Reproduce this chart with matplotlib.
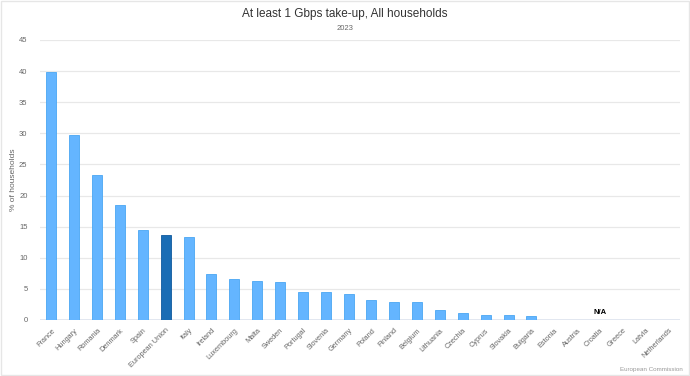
import numpy as np
import matplotlib.pyplot as plt
from matplotlib.patches import Rectangle

countries = ["France", "Hungary", "Romania", "Denmark", "Spain", "European Union",
             "Italy", "Ireland", "Luxembourg", "Malta", "Sweden", "Portugal",
             "Slovenia", "Germany", "Poland", "Finland", "Belgium", "Lithuania",
             "Czechia", "Cyprus", "Slovakia", "Bulgaria", "Estonia", "Austria",
             "Croatia", "Greece", "Latvia", "Netherlands"]
values = [39.8, 29.7, 23.3, 18.5, 14.5, 13.7,
          13.4, 7.4, 6.6, 6.3, 6.05, 4.45,
          4.45, 4.1, 3.25, 2.95, 2.95, 1.55,
          1.15, 0.75, 0.75, 0.7, 0.0, 0.0,
          np.nan, 0.0, 0.0, 0.0]
highlight = "European Union"
yticks = [0, 5, 10, 15, 20, 25, 30, 35, 40, 45]

plt.rcParams['font.family'] = ['Liberation Sans', 'DejaVu Sans']

fig = plt.figure(figsize=(6.9, 3.76), dpi=100)
ax = fig.add_axes([40 / 690, (376 - 320) / 376, 640 / 690, 280 / 376])

x = np.arange(len(countries))
vals = np.nan_to_num(np.array(values, dtype=float))
colors = ["#1a6db5" if c == highlight else "#64b5ff" for c in countries]
edges = ["#0f5a9e" if c == highlight else "#4aa6f2" for c in countries]
ax.bar(x, vals, width=0.44, color=colors, edgecolor=edges, linewidth=0.6, zorder=3)

# N/A marker for missing values
for i, v in enumerate(values):
    if np.isnan(v):
        ax.text(i, 0.6, "N/A", ha="center", va="bottom", fontsize=5.5,
                fontweight="bold", color="black", zorder=4)

ax.set_xlim(-0.5, len(countries) - 0.5)
ax.set_ylim(0, 45)
ax.set_yticks(yticks)
ax.set_yticklabels([str(t) for t in yticks], fontsize=5.5, color="#666666")
ax.set_xticks(x)
ax.set_xticklabels(countries, rotation=45, ha="right", rotation_mode="anchor",
                   fontsize=5.3, color="#666666")
ax.tick_params(axis="y", length=0, pad=9)
ax.tick_params(axis="x", length=0, pad=5)
ax.grid(axis="y", color="#e8e8e8", linewidth=0.9, zorder=0)
for s in ax.spines.values():
    s.set_visible(False)
ax.axhline(0, color="#dde3ee", linewidth=1.2, zorder=2)

fig.text(14 / 690, 1 - 180 / 376, "% of households", rotation=90,
         ha="center", va="center", fontsize=6, color="#666666")

fig.text(0.5, 1 - 14 / 376, "At least 1 Gbps take-up, All households",
         ha="center", va="center", fontsize=8.5, color="#333333")
fig.text(0.5, 1 - 28 / 376, "2023", ha="center", va="center",
         fontsize=5.5, color="#666666")
fig.text(683 / 690, 1 - 369 / 376, "European Commission", ha="right",
         va="center", fontsize=4.5, color="#999999")

# light frame around the whole chart
fig.patches.append(Rectangle((1 / 690, 1 / 376), 688 / 690, 374 / 376,
                             transform=fig.transFigure, fill=False,
                             edgecolor="#e6e6e6", linewidth=1))

fig.savefig("out.png", dpi=100)
